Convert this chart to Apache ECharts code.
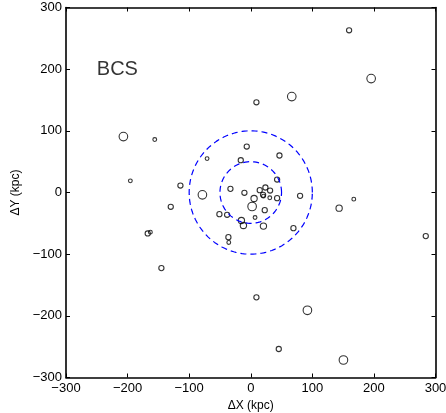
<!DOCTYPE html>
<html><head><meta charset="utf-8">
<script src="https://cdn.jsdelivr.net/npm/echarts@6/dist/echarts.min.js"></script>
<style>html,body{margin:0;padding:0;background:#fff}#c{width:446px;height:413px}</style>
</head><body><div id="c"></div>
<script>
// galaxy offsets (kpc) and brightness class (1 faint .. 4 bright)
const dx = [159.7,195.5,66.6,9.2,-206.8,-155.9,-6.5,-70.9,46.6,-16.2,-195.5,-114.2,42.8,-78.5,-33,-10.3,14.6,23.8,31.4,20,20.6,30.9,42.8,80.1,5.4,2.2,22.7,-50.9,-38.4,7,-15.2,-11.9,20.6,69.3,167.3,143.5,284.2,-167.3,-163,-129.9,-36.3,-35.7,-145.1,9.2,92,45.5,150.5];
const dy = [263,184.7,155.5,146.3,90.7,85.9,74.5,55,60,52.4,18.9,11.3,21,-3.8,5.9,-0.5,3.8,8.1,3.2,-3.8,-5.9,-8.6,-9.2,-5.4,-9.7,-22.7,-28.6,-35.1,-36.2,-40.5,-45.4,-53.5,-54.5,-57.8,-10.8,-25.4,-70.7,-66.4,-64.3,-23.2,-72.4,-81,-122.6,-170,-191,-253.8,-271.6];
const mag = [2,4,4,2,4,1,2,1,2,2,1,2,2,4,2,2,2,2,2,2,1,1,2,2,3,4,2,2,2,1,3,3,3,2,1,3,2,2,1,2,2,1,2,2,4,2,4];
const radii = [50, 100];
const ticks = [-300,-200,-100,0,100,200,300];
const label = {text:'BCS', x:-250, y:200};

const sizeMap = {1:3.8, 2:5.2, 3:6.3, 4:8.6};
const pts = dx.map((x,i)=>[x, dy[i], mag[i]]);
function circ(r){const a=[];for(let d=0;d<=360;d+=2){const t=d*Math.PI/180;a.push([r*Math.cos(t), r*Math.sin(t)]);}return a;}
const fmt = v => String(v).replace('-', '\u2212');
const font = 'Liberation Sans, Arial, Helvetica, sans-serif';
const baseAxis = {
  type:'value', min:ticks[0], max:ticks[ticks.length-1], interval:100,
  axisLine:{show:true, onZero:false, lineStyle:{color:'#000', width:1.6}},
  axisTick:{show:true, inside:true, length:4, lineStyle:{color:'#000', width:1}},
  splitLine:{show:false}
};
const chart = echarts.init(document.getElementById('c'), null, {renderer:'canvas'});
chart.setOption({
  animation:false,
  grid:{left:66, right:10.5, top:7.5, bottom:35.5, containLabel:false, outerBoundsMode:'none'},
  xAxis:[
    Object.assign({}, baseAxis, {position:'bottom', name:'\u0394X (kpc)', nameLocation:'middle', nameGap:22,
      nameTextStyle:{fontFamily:font, fontSize:12, color:'#000'},
      axisLabel:{formatter:fmt, fontFamily:font, fontSize:13, color:'#000', margin:4}}),
    Object.assign({}, baseAxis, {position:'top', axisLabel:{show:false}})
  ],
  yAxis:[
    Object.assign({}, baseAxis, {position:'left', name:'\u0394Y (kpc)', nameLocation:'middle', nameGap:38, nameRotate:90,
      nameTextStyle:{fontFamily:font, fontSize:12, color:'#000'},
      axisLabel:{formatter:fmt, fontFamily:font, fontSize:13, color:'#000', margin:4}}),
    Object.assign({}, baseAxis, {position:'right', axisLabel:{show:false}})
  ],
  series:[
    ...radii.map(r=>({type:'line', data:circ(r), showSymbol:false, silent:true,
      lineStyle:{color:'#0000ff', width:1.2, type:[6,4]}})),
    {type:'scatter', data:pts, symbol:'circle', symbolSize:v=>sizeMap[v[2]],
      itemStyle:{color:'rgba(0,0,0,0)', borderColor:'#000', borderWidth:1.1}},
    {type:'scatter', data:[[label.x, label.y]], symbolSize:0, silent:true,
      label:{show:true, formatter:label.text, position:'right', distance:0, fontFamily:font, fontSize:20, color:'#000'}}
  ]
});
</script></body></html>
